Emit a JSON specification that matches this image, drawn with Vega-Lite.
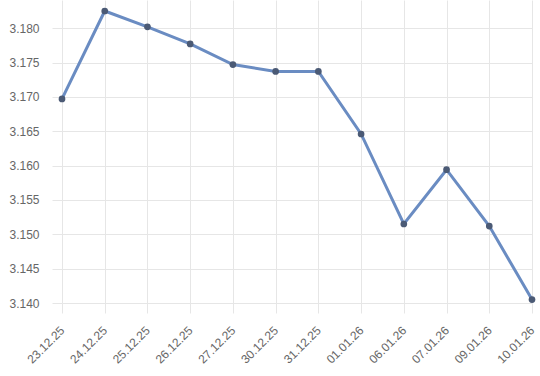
{
  "$schema": "https://vega.github.io/schema/vega-lite/v6.json",
  "width": 470,
  "height": 303,
  "autosize": "none",
  "padding": {"left": 62, "top": 0, "right": 8, "bottom": 73},
  "background": "white",
  "data": {"values": [
    {"date": "23.12.25", "value": 3.1697},
    {"date": "24.12.25", "value": 3.1825},
    {"date": "25.12.25", "value": 3.1802},
    {"date": "26.12.25", "value": 3.1777},
    {"date": "27.12.25", "value": 3.1747},
    {"date": "30.12.25", "value": 3.1737},
    {"date": "31.12.25", "value": 3.1737},
    {"date": "01.01.26", "value": 3.1646},
    {"date": "06.01.26", "value": 3.1515},
    {"date": "07.01.26", "value": 3.1594},
    {"date": "09.01.26", "value": 3.1512},
    {"date": "10.01.26", "value": 3.1405}
  ]},
  "config": {
    "view": {"stroke": null},
    "axis": {
      "labelFont": "Liberation Sans",
      "labelFontSize": 12,
      "labelColor": "#666666",
      "gridColor": "#e6e6e6",
      "tickColor": "#e6e6e6",
      "domain": false,
      "tickSize": 10,
      "title": null
    }
  },
  "encoding": {
    "x": {
      "field": "date",
      "type": "ordinal",
      "sort": null,
      "scale": {"type": "point", "padding": 0},
      "axis": {"labelAngle": -45, "labelAlign": "right", "labelBaseline": "middle", "labelPadding": 15, "labelDx": 3, "grid": true}
    },
    "y": {
      "field": "value",
      "type": "quantitative",
      "scale": {"domain": [3.14, 3.1841], "nice": false, "zero": false},
      "axis": {
        "values": [3.14, 3.145, 3.15, 3.155, 3.16, 3.165, 3.17, 3.175, 3.18],
        "format": ".3f",
        "labelPadding": 13,
        "grid": true
      }
    }
  },
  "layer": [
    {"mark": {"type": "line", "color": "#6a8cc2", "strokeWidth": 3}},
    {"mark": {"type": "point", "filled": true, "color": "#4b5a75", "size": 45, "opacity": 1}}
  ]
}
